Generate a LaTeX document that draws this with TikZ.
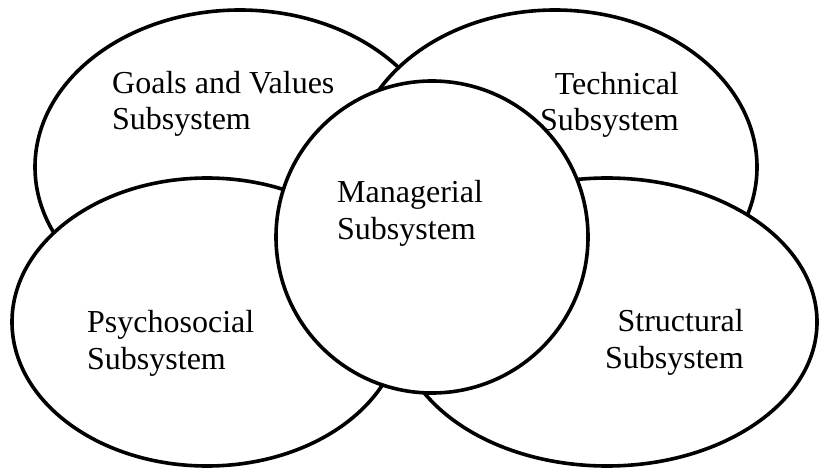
\documentclass[tikz,border=0pt]{standalone}
\usepackage{fontspec}
\setmainfont{Liberation Serif}
\begin{document}
\begin{tikzpicture}[x=1pt,y=-1pt,
  part/.style={draw=black,fill=white,line width=3.6pt},
  lbl/.style={inner sep=0pt,font=\fontsize{32}{36.5}\selectfont}]
\useasboundingbox (0,0) rectangle (819,468);
% the five subsystems, back to front
\path[part] (240,167) ellipse (205 and 157);   % goals and values
\path[part] (555,167) ellipse (202 and 157);   % technical
\path[part] (207,322) ellipse (195 and 144);   % psychosocial
\path[part] (607,322) ellipse (210 and 144);   % structural
\path[part] (432,237) circle (156);            % managerial
% labels (anchored at the baseline of their last line)
\node[lbl,anchor=base west,align=left] (goals) at (112,130) {Goals and Values\\Subsystem};
\node[lbl,anchor=base east,align=right] (tech) at (679,131) {Technical\\Subsystem};
\node[lbl,anchor=base west,align=left] (mgr) at (337,239) {Managerial\\Subsystem};
\node[lbl,anchor=base west,align=left] (psy) at (87,369) {Psychosocial\\Subsystem};
\node[lbl,anchor=base east,align=right] (str) at (744,368) {Structural\\Subsystem};
\end{tikzpicture}
\end{document}
